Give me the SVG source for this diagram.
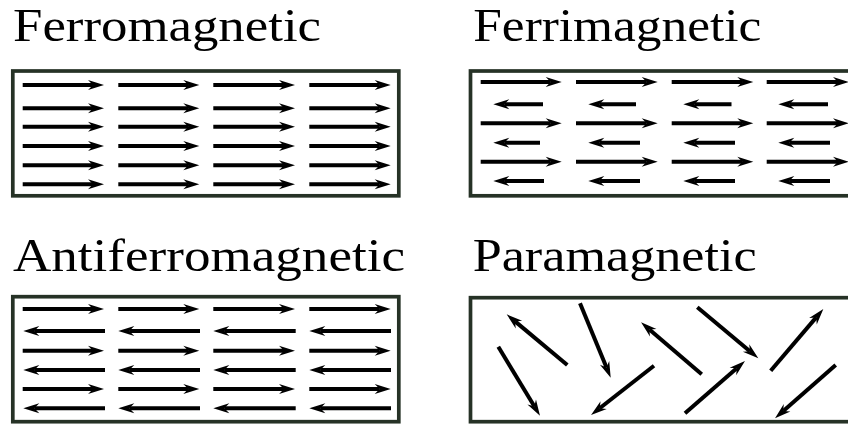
<svg xmlns="http://www.w3.org/2000/svg" width="848" height="425" viewBox="0 0 848 425">
<defs>
<marker id="ah" markerUnits="userSpaceOnUse" markerWidth="40" markerHeight="40" viewBox="-20 -20 40 40" refX="0" refY="0" orient="auto">
<path d="M11,0 L-5,-5 L0,0 L-5,5 Z" fill="#000"/>
</marker>
</defs>
<style>
.t{font-family:"Liberation Serif","Times New Roman",serif;font-size:47px;fill:#000}
.box{fill:#fff;stroke:#263226;stroke-width:3.7}
.a{stroke:#000;stroke-width:4;fill:none;marker-end:url(#ah)}
</style>
<rect width="848" height="425" fill="#fff"/>
<g id="ferro">
<text class="t" x="13" y="40.7" textLength="308" lengthAdjust="spacingAndGlyphs">Ferromagnetic</text>
<rect class="box" x="12.8" y="71" width="386" height="124.8"/>
</g>
<g id="ferri">
<text class="t" x="473.3" y="40.7" textLength="288" lengthAdjust="spacingAndGlyphs">Ferrimagnetic</text>
<rect class="box" x="470.5" y="71" width="400" height="124.8"/>
</g>
<g id="antiferro">
<text class="t" x="13" y="270.5" textLength="392" lengthAdjust="spacingAndGlyphs">Antiferromagnetic</text>
<rect class="box" x="12.8" y="296.7" width="386" height="125"/>
</g>
<g id="para">
<text class="t" x="472.7" y="270.7" textLength="284" lengthAdjust="spacingAndGlyphs">Paramagnetic</text>
<rect class="box" x="470.5" y="297.7" width="400" height="124"/>
</g>
<g id="connectors">
<g id="ferro-arrows">
<line class="a" x1="22.7" y1="85" x2="93" y2="85"/><line class="a" x1="118.3" y1="85" x2="188.3" y2="85"/><line class="a" x1="213.3" y1="85" x2="284" y2="85"/><line class="a" x1="309.3" y1="85" x2="379.7" y2="85"/>
<line class="a" x1="22.7" y1="108.3" x2="93" y2="108.3"/><line class="a" x1="118.3" y1="108.3" x2="188.3" y2="108.3"/><line class="a" x1="213.3" y1="108.3" x2="284" y2="108.3"/><line class="a" x1="309.3" y1="108.3" x2="379.7" y2="108.3"/>
<line class="a" x1="22.7" y1="126.7" x2="93" y2="126.7"/><line class="a" x1="118.3" y1="126.7" x2="188.3" y2="126.7"/><line class="a" x1="213.3" y1="126.7" x2="284" y2="126.7"/><line class="a" x1="309.3" y1="126.7" x2="379.7" y2="126.7"/>
<line class="a" x1="22.7" y1="146" x2="93" y2="146"/><line class="a" x1="118.3" y1="146" x2="188.3" y2="146"/><line class="a" x1="213.3" y1="146" x2="284" y2="146"/><line class="a" x1="309.3" y1="146" x2="379.7" y2="146"/>
<line class="a" x1="22.7" y1="165.3" x2="93" y2="165.3"/><line class="a" x1="118.3" y1="165.3" x2="188.3" y2="165.3"/><line class="a" x1="213.3" y1="165.3" x2="284" y2="165.3"/><line class="a" x1="309.3" y1="165.3" x2="379.7" y2="165.3"/>
<line class="a" x1="22.7" y1="184.3" x2="93" y2="184.3"/><line class="a" x1="118.3" y1="184.3" x2="188.3" y2="184.3"/><line class="a" x1="213.3" y1="184.3" x2="284" y2="184.3"/><line class="a" x1="309.3" y1="184.3" x2="379.7" y2="184.3"/>
</g>
<g id="ferri-arrows">
<line class="a" x1="480.7" y1="82" x2="550.7" y2="82"/><line class="a" x1="576" y1="82" x2="646.7" y2="82"/><line class="a" x1="671.7" y1="82" x2="742.3" y2="82"/><line class="a" x1="766.7" y1="82" x2="838" y2="82"/>
<line class="a" x1="480.7" y1="123.3" x2="550.7" y2="123.3"/><line class="a" x1="576" y1="123.3" x2="646.7" y2="123.3"/><line class="a" x1="671.7" y1="123.3" x2="742.3" y2="123.3"/><line class="a" x1="766.7" y1="123.3" x2="838" y2="123.3"/>
<line class="a" x1="480.7" y1="161.7" x2="550.7" y2="161.7"/><line class="a" x1="576" y1="161.7" x2="646.7" y2="161.7"/><line class="a" x1="671.7" y1="161.7" x2="742.3" y2="161.7"/><line class="a" x1="766.7" y1="161.7" x2="838" y2="161.7"/>
<line class="a" x1="543" y1="104.3" x2="504.3" y2="104.3"/><line class="a" x1="636" y1="104.3" x2="599.3" y2="104.3"/><line class="a" x1="731.5" y1="104.3" x2="694.3" y2="104.3"/><line class="a" x1="828" y1="104.3" x2="789.3" y2="104.3"/>
<line class="a" x1="540" y1="142.7" x2="504.3" y2="142.7"/><line class="a" x1="640" y1="142.7" x2="599.3" y2="142.7"/><line class="a" x1="735" y1="142.7" x2="694.3" y2="142.7"/><line class="a" x1="830" y1="142.7" x2="789.3" y2="142.7"/>
<line class="a" x1="544" y1="181" x2="504.3" y2="181"/><line class="a" x1="640" y1="181" x2="599.3" y2="181"/><line class="a" x1="735" y1="181" x2="694.3" y2="181"/><line class="a" x1="830" y1="181" x2="789.3" y2="181"/>
</g>
<g id="antiferro-arrows">
<line class="a" x1="22.7" y1="309" x2="93" y2="309"/><line class="a" x1="118.3" y1="309" x2="188.3" y2="309"/><line class="a" x1="213.3" y1="309" x2="284" y2="309"/><line class="a" x1="309.3" y1="309" x2="379.7" y2="309"/>
<line class="a" x1="22.7" y1="350.7" x2="93" y2="350.7"/><line class="a" x1="118.3" y1="350.7" x2="188.3" y2="350.7"/><line class="a" x1="213.3" y1="350.7" x2="284" y2="350.7"/><line class="a" x1="309.3" y1="350.7" x2="379.7" y2="350.7"/>
<line class="a" x1="22.7" y1="389" x2="93" y2="389"/><line class="a" x1="118.3" y1="389" x2="188.3" y2="389"/><line class="a" x1="213.3" y1="389" x2="284" y2="389"/><line class="a" x1="309.3" y1="389" x2="379.7" y2="389"/>
<line class="a" x1="105" y1="331" x2="34.3" y2="331"/><line class="a" x1="200" y1="331" x2="129.3" y2="331"/><line class="a" x1="295.7" y1="331" x2="224.3" y2="331"/><line class="a" x1="391" y1="331" x2="320.3" y2="331"/>
<line class="a" x1="105" y1="370" x2="34.3" y2="370"/><line class="a" x1="200" y1="370" x2="129.3" y2="370"/><line class="a" x1="295.7" y1="370" x2="224.3" y2="370"/><line class="a" x1="391" y1="370" x2="320.3" y2="370"/>
<line class="a" x1="105" y1="408.3" x2="34.3" y2="408.3"/><line class="a" x1="200" y1="408.3" x2="129.3" y2="408.3"/><line class="a" x1="295.7" y1="408.3" x2="224.3" y2="408.3"/><line class="a" x1="391" y1="408.3" x2="320.3" y2="408.3"/>
</g>
<g id="para-arrows">
<line class="a" x1="567.3" y1="365" x2="515.1" y2="321.4"/>
<line class="a" x1="580" y1="303.3" x2="606.5" y2="367.5"/>
<line class="a" x1="498.3" y1="346.7" x2="534.3" y2="406.3"/>
<line class="a" x1="654" y1="365.7" x2="599.7" y2="408.2"/>
<line class="a" x1="701.7" y1="374.3" x2="649.4" y2="329.5"/>
<line class="a" x1="697.3" y1="307.3" x2="749.9" y2="351.2"/>
<line class="a" x1="685" y1="413.3" x2="736.7" y2="368.2"/>
<line class="a" x1="770.7" y1="370.7" x2="816.2" y2="317.4"/>
<line class="a" x1="835.7" y1="365" x2="783.3" y2="411"/>
</g>
</g>
</svg>
